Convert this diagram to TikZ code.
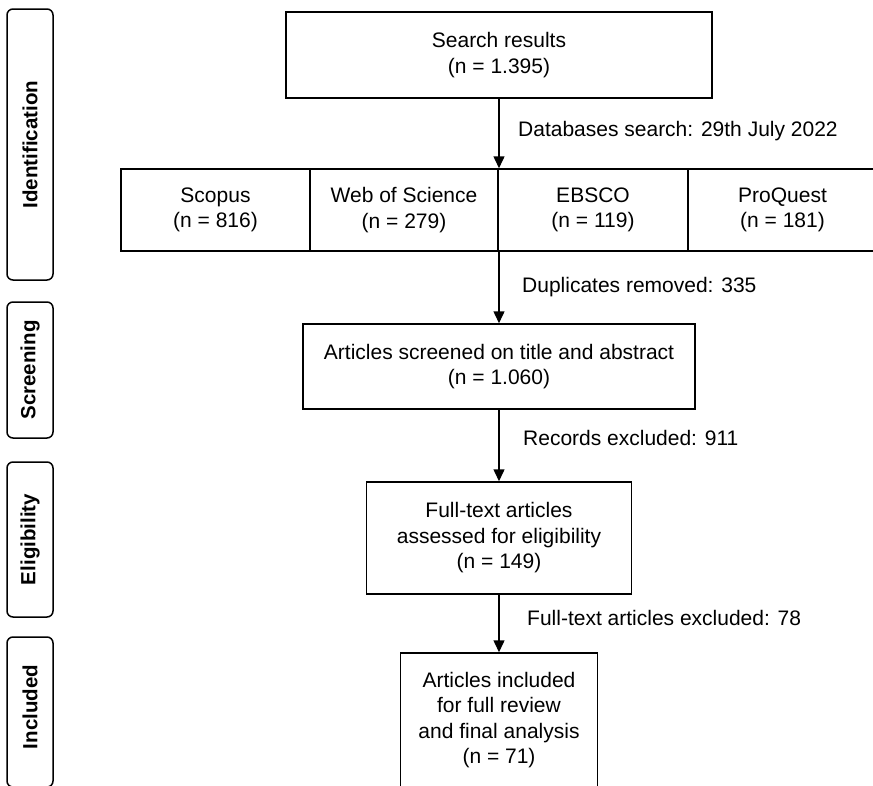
\documentclass[tikz,border=0pt]{standalone}
\usepackage{fontspec}
\setmainfont{Liberation Sans}
\usetikzlibrary{arrows.meta}
\tikzset{
  every node/.style={font=\fontsize{21}{25.5}\selectfont},
  flowbox/.style={draw, line width=1.5pt, align=center, inner sep=0pt},
  phasebox/.style={draw, line width=1.5pt, rounded corners=6pt, minimum width=46pt, inner sep=0pt},
  phasetext/.style={font=\fontsize{20.5}{24}\selectfont\bfseries, rotate=90},
  arr/.style={line width=1.5pt, -{Triangle[length=12pt,width=11pt]}},
  note/.style={anchor=west, inner sep=0pt}
}
\begin{document}
\begin{tikzpicture}[x=1pt,y=-1pt]
\path[use as bounding box, clip] (0,0) rectangle (873,785);
% phase labels
\node[phasebox, minimum height=271pt] (pid) at (30,144.5) {};
\node[phasetext] (tid) at (pid.center) {Identification};
\node[phasebox, minimum height=136pt] (psc) at (30,370) {};
\node[phasetext] (tsc) at (psc.center) {Screening};
\node[phasebox, minimum height=155pt] (pel) at (30,539.5) {};
\node[phasetext] (tel) at (pel.center) {Eligibility};
\node[phasebox, minimum height=150pt] (pin) at (30,712) {};
\node[phasetext] (tin) at (30,707) {Included};
% boxes
\node[flowbox, minimum width=426pt, minimum height=86pt] (search) at (499,55) {Search results\\(n = 1.395)};
\node[flowbox, minimum width=189pt, minimum height=82pt] (scopus) at (215.5,210) {Scopus\\(n = 816)};
\node[flowbox, minimum width=188pt, minimum height=82pt] (wos) at (404,210) {Web of Science\\(n = 279)};
\node[flowbox, minimum width=190pt, minimum height=82pt] (ebsco) at (593,210) {EBSCO\\(n = 119)};
\node[flowbox, minimum width=189pt, minimum height=82pt] (proquest) at (782.5,210) {ProQuest\\(n = 181)};
\node[flowbox, minimum width=392pt, minimum height=85pt] (screen) at (499,366.5) {Articles screened on title and abstract\\(n = 1.060)};
\node[flowbox, minimum width=265pt, minimum height=112pt] (elig) at (499,538) {Full-text articles\\assessed for eligibility\\(n = 149)};
\node[flowbox, minimum width=197pt, minimum height=134pt] (incl) at (499,720) {Articles included\\for full review\\and final analysis\\(n = 71)};
% connectors
\draw[arr] (search.south) -- (search.south |- ebsco.north);
\draw[arr] (screen.north |- ebsco.south) -- (screen.north);
\draw[arr] (screen.south) -- (elig.north);
\draw[arr] (elig.south) -- (incl.north);
% notes
\node[note] (n1) at (518,131) {Databases search: 29th July 2022};
\node[note] (n2) at (522,287) {Duplicates removed: 335};
\node[note] (n3) at (523,438) {Records excluded: 911};
\node[note] (n4) at (527,618) {Full-text articles excluded: 78};
\end{tikzpicture}
\end{document}
